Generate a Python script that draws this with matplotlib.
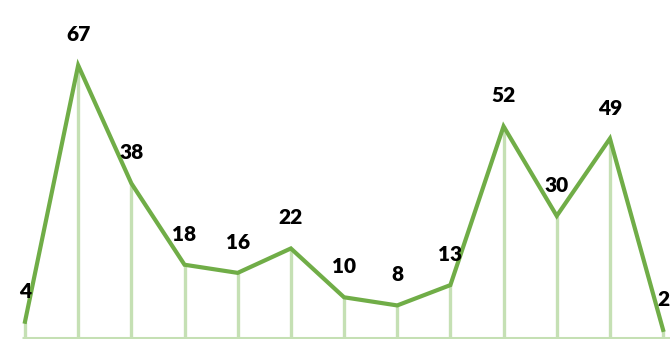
import matplotlib.pyplot as plt

# monthly counts plotted as a line with drop lines
positions = list(range(13))
values = [4, 67, 38, 18, 16, 22, 10, 8, 13, 52, 30, 49, 2]

line_color = "#70ad47"
drop_color = "#c5e0b4"

fig = plt.figure(figsize=(6.7, 3.39), dpi=100)
ax = fig.add_axes([0, 0, 1, 1])

# baseline and drop lines
ax.hlines(0, -0.05, 12.2, color=drop_color, linewidth=2.2, zorder=1)
ax.vlines(positions, 0, values, color=drop_color, linewidth=2.4, zorder=1)

ax.plot(positions, values, color=line_color, linewidth=3, solid_joinstyle="miter", zorder=2)

for x, v in zip(positions, values):
    ax.annotate(str(v), (x, v), xytext=(0, 22), textcoords="offset points",
                ha="center", va="center", fontsize=15, fontweight="heavy",
                family=["Lato", "DejaVu Sans"], color="black")

ax.set_xlim(-0.47, 12.13)
ax.set_ylim(-0.25, 83.05)
ax.axis("off")

fig.savefig("out.png", dpi=100)
